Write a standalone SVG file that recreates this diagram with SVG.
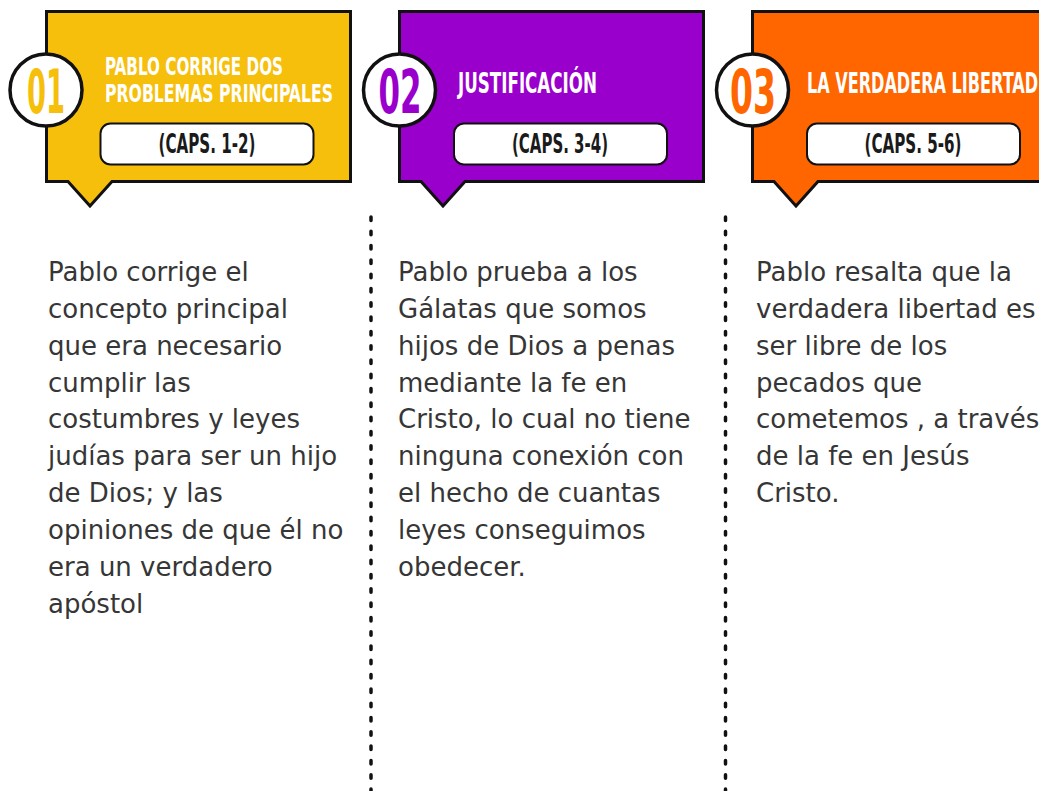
<svg xmlns="http://www.w3.org/2000/svg" width="1039" height="791" viewBox="0 0 1039 791">
<style>
.card{stroke:#111;stroke-width:3;stroke-linejoin:miter}
.num{fill:#fff;stroke:#111;stroke-width:3.5}
.numt{font-family:"Liberation Sans Narrow","DejaVu Sans Condensed","Liberation Sans",sans-serif;font-weight:bold;font-size:60px;text-anchor:middle}
.ttl{font-family:"Liberation Sans Narrow","DejaVu Sans Condensed","Liberation Sans",sans-serif;font-weight:bold;fill:#fff}
.pill{fill:#fff;stroke:#111;stroke-width:2}
.pillt{font-family:"Liberation Sans Narrow","DejaVu Sans Condensed","Liberation Sans",sans-serif;font-weight:bold;font-size:26px;fill:#1a1a1a;text-anchor:middle}
.body{font-family:"DejaVu Sans","Noto Sans",sans-serif;font-size:26px;fill:#363636}
.dots{stroke:#111;stroke-width:3.5;stroke-linecap:round;stroke-dasharray:3.5 10.8;fill:none}
</style>
<rect width="1039" height="791" fill="#fff"/>
<g id="connectors">
<line class="dots" x1="371" y1="217" x2="371" y2="795"/>
<line class="dots" x1="725.5" y1="217" x2="725.5" y2="795"/>
</g>
<g id="card1">
<path class="card" fill="#F6BF0C" d="M46.5,11.5 H350.5 V181.5 H112 L90,206 L68,181.5 H46.5 Z"/>
<circle class="num" cx="46" cy="90" r="36"/>
<text class="numt" x="46" y="113" fill="#F6BF0C" textLength="38" lengthAdjust="spacingAndGlyphs">01</text>
<text class="ttl" x="105" y="75" font-size="25" textLength="178" lengthAdjust="spacingAndGlyphs">PABLO CORRIGE DOS</text>
<text class="ttl" x="105" y="102" font-size="25" textLength="228" lengthAdjust="spacingAndGlyphs">PROBLEMAS PRINCIPALES</text>
<rect class="pill" x="100.5" y="123.5" width="213" height="41" rx="10"/>
<text class="pillt" x="207" y="153" textLength="97" lengthAdjust="spacingAndGlyphs">(CAPS. 1-2)</text>
</g>
<g id="card2">
<path class="card" fill="#9900CC" d="M399.5,11.5 H703.5 V181.5 H465 L443,206 L421,181.5 H399.5 Z"/>
<circle class="num" cx="399.5" cy="90" r="36"/>
<text class="numt" x="400" y="113" fill="#9900CC" textLength="43" lengthAdjust="spacingAndGlyphs">02</text>
<text class="ttl" x="458" y="93" font-size="28" textLength="139" lengthAdjust="spacingAndGlyphs">JUSTIFICACIÓN</text>
<rect class="pill" x="454" y="123.5" width="213" height="41" rx="10"/>
<text class="pillt" x="560" y="153" textLength="96" lengthAdjust="spacingAndGlyphs">(CAPS. 3-4)</text>
</g>
<g id="card3">
<path class="card" fill="#FF6600" d="M752.5,11.5 H1056.5 V181.5 H818 L796,206 L774,181.5 H752.5 Z"/>
<circle class="num" cx="752.5" cy="90" r="36"/>
<text class="numt" x="753" y="113" fill="#FF6600" textLength="46" lengthAdjust="spacingAndGlyphs">03</text>
<text class="ttl" x="807" y="93" font-size="28" textLength="231" lengthAdjust="spacingAndGlyphs">LA VERDADERA LIBERTAD</text>
<rect class="pill" x="807" y="123.5" width="213" height="41" rx="10"/>
<text class="pillt" x="913" y="153" textLength="97" lengthAdjust="spacingAndGlyphs">(CAPS. 5-6)</text>
</g>
<g id="text1" class="body">
<text x="48" y="281">Pablo corrige el</text>
<text x="48" y="318">concepto principal</text>
<text x="48" y="355">que era necesario</text>
<text x="48" y="392">cumplir las</text>
<text x="48" y="428">costumbres y leyes</text>
<text x="48" y="465">judías para ser un hijo</text>
<text x="48" y="502">de Dios; y las</text>
<text x="48" y="539">opiniones de que él no</text>
<text x="48" y="576">era un verdadero</text>
<text x="48" y="613">apóstol</text>
</g>
<g id="text2" class="body">
<text x="398" y="281">Pablo prueba a los</text>
<text x="398" y="318">Gálatas que somos</text>
<text x="398" y="355">hijos de Dios a penas</text>
<text x="398" y="392">mediante la fe en</text>
<text x="398" y="428">Cristo, lo cual no tiene</text>
<text x="398" y="465">ninguna conexión con</text>
<text x="398" y="502">el hecho de cuantas</text>
<text x="398" y="539">leyes conseguimos</text>
<text x="398" y="576">obedecer.</text>
</g>
<g id="text3" class="body">
<text x="756" y="281">Pablo resalta que la</text>
<text x="756" y="318">verdadera libertad es</text>
<text x="756" y="355">ser libre de los</text>
<text x="756" y="392">pecados que</text>
<text x="756" y="428">cometemos , a través</text>
<text x="756" y="465">de la fe en Jesús</text>
<text x="756" y="502">Cristo.</text>
</g>
</svg>
